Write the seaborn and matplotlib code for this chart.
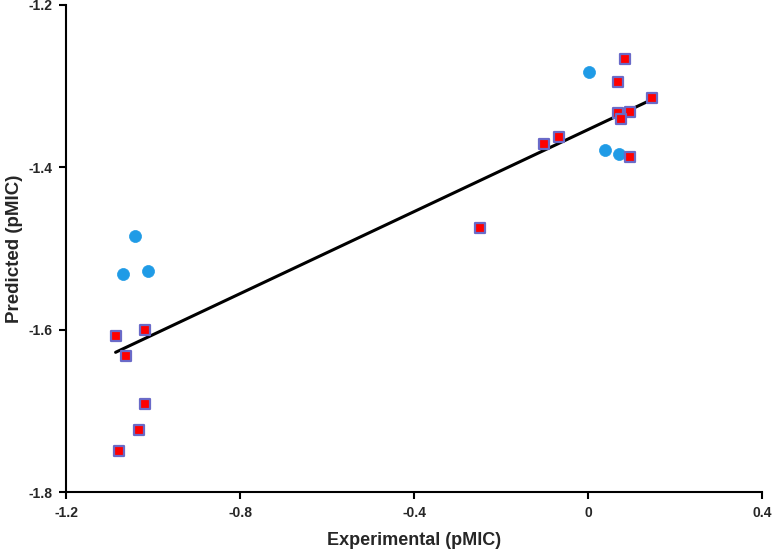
import matplotlib
matplotlib.use("Agg")
import matplotlib.pyplot as plt
import seaborn as sns
import numpy as np
import pandas as pd

# Data
blue_x = [-1.041, -1.068, -1.012, 0.002, 0.039, 0.071]
blue_y = [-1.484, -1.532, -1.528, -1.283, -1.379, -1.383]
red_x = [-1.086, -1.019, -1.062, -1.019, -1.032, -1.078,
         0.086, 0.069, 0.146, 0.069, 0.096, 0.077,
         -0.102, -0.066, 0.097, -0.248]
red_y = [-1.608, -1.600, -1.632, -1.691, -1.724, -1.750,
         -1.267, -1.295, -1.315, -1.333, -1.332, -1.340,
         -1.371, -1.363, -1.387, -1.475]
x_ticks = [-1.2, -0.8, -0.4, 0.0, 0.4]
x_tick_labels = ["-1.2", "-0.8", "-0.4", "0", "0.4"]
y_ticks = [-1.8, -1.6, -1.4, -1.2]
y_tick_labels = ["-1.8", "-1.6", "-1.4", "-1.2"]

sns.set_style("white")
plt.rcParams['font.family'] = ['Liberation Sans', 'DejaVu Sans']

blue_df = pd.DataFrame({"x": blue_x, "y": blue_y})
red_df = pd.DataFrame({"x": red_x, "y": red_y})
all_df = pd.concat([blue_df, red_df], ignore_index=True)

fig = plt.figure(figsize=(7.74, 5.51), dpi=100)
ax = fig.add_axes([66/774, 59/551, (762-66)/774, (492-5)/551])

sns.regplot(data=all_df, x="x", y="y", ax=ax, scatter=False, ci=None,
            truncate=True, line_kws=dict(color="black", lw=2.2))
sns.scatterplot(data=blue_df, x="x", y="y", ax=ax, marker="o", s=75,
                color="#1f9be6", edgecolor="#1f9be6", linewidth=0.5, zorder=3)
sns.scatterplot(data=red_df, x="x", y="y", ax=ax, marker="s", s=60,
                color="#ff0000", edgecolor="#6a6ac8", linewidth=1.6, zorder=4)

ax.set_xlim(-1.2, 0.4)
ax.set_ylim(-1.8, -1.2)
ax.set_xticks(x_ticks)
ax.set_xticklabels(x_tick_labels, fontsize=10, fontweight="bold")
ax.set_yticks(y_ticks)
ax.set_yticklabels(y_tick_labels, fontsize=10, fontweight="bold")
ax.set_xlabel("Experimental (pMIC)", fontsize=13, fontweight="bold", labelpad=9)
ax.set_ylabel("Predicted (pMIC)", fontsize=13.5, fontweight="bold", labelpad=4)

for s in ["top", "right"]:
    ax.spines[s].set_visible(False)
for s in ["left", "bottom"]:
    ax.spines[s].set_color("black")
    ax.spines[s].set_linewidth(1.5)
ax.tick_params(axis="both", direction="out", length=5, width=1.5, color="black",
               bottom=True, left=True, pad=5)

fig.savefig("out.png", dpi=100)
